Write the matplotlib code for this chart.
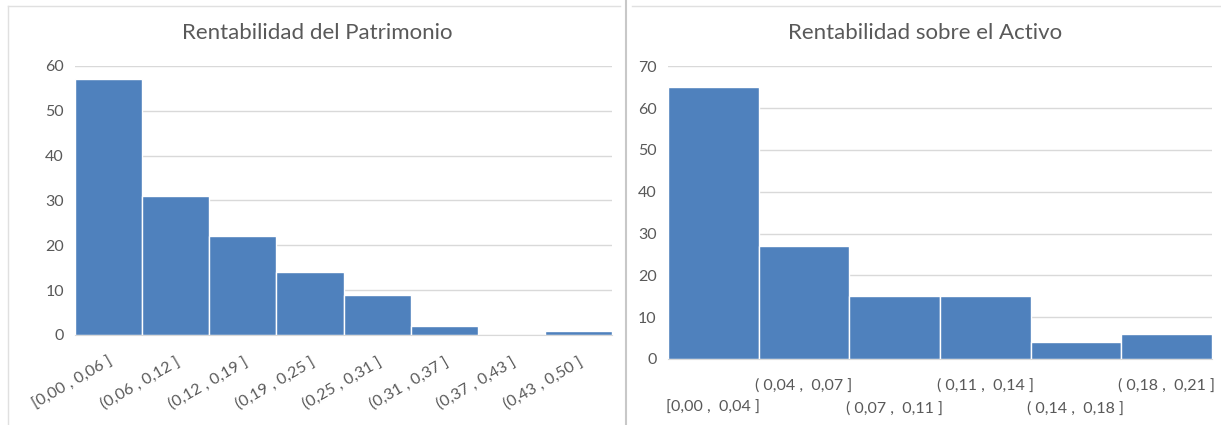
import matplotlib.pyplot as plt
from matplotlib.lines import Line2D

# Data
roe_labels = ["[0,00 , 0,06 ]", "(0,06 , 0,12 ]", "(0,12 , 0,19 ]", "(0,19 , 0,25 ]",
              "(0,25 , 0,31 ]", "(0,31 , 0,37 ]", "(0,37 , 0,43 ]", "(0,43 , 0,50 ]"]
roe_counts = [57, 31, 22, 14, 9, 2, 0, 1]

roa_labels = ["[0,00 ,  0,04 ]", "( 0,04 ,  0,07 ]", "( 0,07 ,  0,11 ]",
              "( 0,11 ,  0,14 ]", "( 0,14 ,  0,18 ]", "( 0,18 ,  0,21 ]"]
roa_counts = [65, 27, 15, 15, 4, 6]

plt.rcParams['font.family'] = ['Lato', 'DejaVu Sans']

bar_color = "#4F81BD"
text_color = "#595959"
grid_color = "#D9D9D9"

fig = plt.figure(figsize=(12.21, 4.25), dpi=100)
fig.patch.set_facecolor("white")


def style_axes(ax, ymax, step):
    ax.set_ylim(0, ymax)
    ax.set_yticks(range(0, ymax + 1, step))
    ax.yaxis.grid(True, color=grid_color, linewidth=1)
    ax.set_axisbelow(True)
    for s in ["top", "right", "left"]:
        ax.spines[s].set_visible(False)
    ax.spines["bottom"].set_color(grid_color)
    ax.tick_params(axis="both", length=0, colors=text_color, labelsize=11.5)
    ax.tick_params(axis="y", pad=8)


# Left chart: Rentabilidad del Patrimonio
ax1 = fig.add_axes([0.0614, 0.2118, 0.440, 0.633])
ax1.bar(range(len(roe_counts)), roe_counts, width=1, align="edge",
        color=bar_color, edgecolor="white", linewidth=1)
ax1.set_xlim(0, len(roe_counts))
style_axes(ax1, 60, 10)
ax1.set_xticks([i + 0.5 for i in range(len(roe_labels))])
ax1.set_xticklabels(roe_labels, rotation=30, ha="right", rotation_mode="anchor")
ax1.tick_params(axis="x", pad=14)
fig.text(0.26, 0.922, "Rentabilidad del Patrimonio", ha="center", va="center",
         fontsize=16, color=text_color)

# Right chart: Rentabilidad sobre el Activo
ax2 = fig.add_axes([0.547, 0.1553, 0.4455, 0.689])
ax2.bar(range(len(roa_counts)), roa_counts, width=1, align="edge",
        color=bar_color, edgecolor="white", linewidth=1)
ax2.set_xlim(0, len(roa_counts))
style_axes(ax2, 70, 10)
ax2.set_xticks([i + 0.5 for i in range(len(roa_labels))])
# staggered labels, like Excel does when they don't fit
ax2.set_xticklabels([("\n" + t) if i % 2 == 0 else t for i, t in enumerate(roa_labels)],
                    linespacing=1.75)
ax2.tick_params(axis="x", pad=14)
fig.text(0.758, 0.922, "Rentabilidad sobre el Activo", ha="center", va="center",
         fontsize=16, color=text_color)

# chart frames
fig.add_artist(Line2D([0.0065, 0.0065], [0.0, 0.985], color="#E0E0E0", linewidth=1))
fig.add_artist(Line2D([0.0065, 0.508], [0.985, 0.985], color="#E0E0E0", linewidth=1))
fig.add_artist(Line2D([0.513, 0.513], [0.0, 1.0], color="#C8C8C8", linewidth=1.5))
fig.add_artist(Line2D([0.518, 1.0], [0.985, 0.985], color="#E0E0E0", linewidth=1))

fig.savefig("out.png", dpi=100, facecolor="white")
